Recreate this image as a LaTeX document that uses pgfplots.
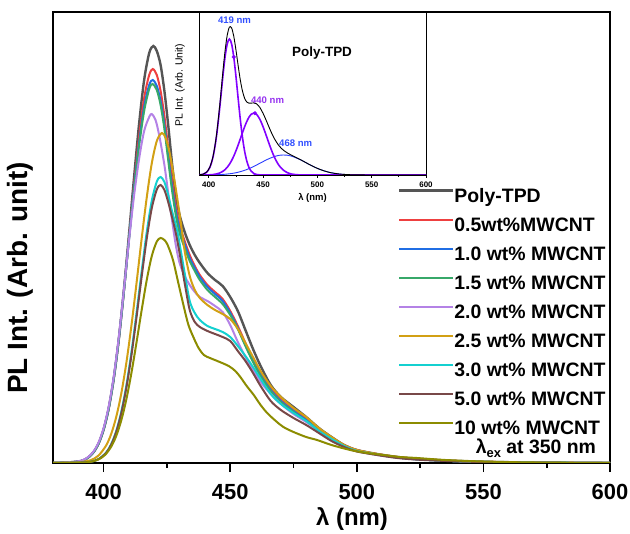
\documentclass[border=0pt]{standalone}
\usepackage{fontspec}
\setmainfont{Liberation Sans}
\usepackage{pgfplots}
\pgfplotsset{compat=1.18}
\definecolor{cTPD}{RGB}{85,85,85}
\definecolor{cRed}{RGB}{238,64,64}
\definecolor{cBlue}{RGB}{32,110,228}
\definecolor{cGreen}{RGB}{55,168,105}
\definecolor{cLav}{RGB}{180,130,230}
\definecolor{cGold}{RGB}{210,160,20}
\definecolor{cCyan}{RGB}{20,208,208}
\definecolor{cBrown}{RGB}{120,72,72}
\definecolor{cOlive}{RGB}{140,140,0}
\definecolor{iPurple}{RGB}{130,0,255}
\definecolor{iBlue}{RGB}{40,60,255}
\definecolor{tBlue}{RGB}{50,80,255}
\definecolor{tPurple}{RGB}{150,50,240}
\begin{document}
\begin{tikzpicture}
\path[use as bounding box] (0,0) rectangle (630bp,534bp);
\begin{axis}[
  at={(53bp,71bp)}, anchor=south west, scale only axis,
  width=557bp, height=451bp,
  xmin=380, xmax=600, ymin=0, ymax=451,
  axis line style={line width=1.6bp},
  xtick={400,450,500,550,600}, minor x tick num=1, xtick pos=left,
  tick align=outside, major tick length=9bp, minor tick length=5bp,
  every tick/.style={black, line width=1.6bp},
  ytick=\empty,
  /pgf/number format/assume math mode=true,
  xticklabel style={font=\bfseries\fontsize{22}{24}\selectfont, yshift=-9bp},
  xlabel={λ (nm)},
  xlabel style={font=\bfseries\fontsize{24}{26}\selectfont, at={(rel axis cs:0.537,0)}, anchor=center, yshift=-56bp},
  ylabel={PL Int. (Arb. unit)},
  ylabel style={font=\bfseries\fontsize{28}{30}\selectfont, at={(rel axis cs:0,0.41)}, anchor=center, yshift=33bp},
  legend style={draw=none, fill=none, at={(rel axis cs:0.619,0.61)}, anchor=north west,
    font=\bfseries\fontsize{19.5}{21}\selectfont, row sep=11bp, inner sep=0pt,
    nodes={inner sep=0pt, text height=14bp, text depth=4bp},
    /tikz/every even column/.append style={column sep=5bp}},
  legend cell align=left,
  legend image code/.code={\draw[#1] (0bp,6.5bp) -- (54bp,6.5bp);},
  every axis plot/.append style={line width=2bp, smooth, tension=0.5},
]
\addplot[cTPD, line width=2.4bp] coordinates {(380,0)(386,0.6)(390,1.5)(392,2.8)(394,5.7)(396,10.8)(398,19.5)(400,33.6)(402,54.7)(404,84.6)(406,124)(408,173)(410,228)(412,285)(414,339)(416,383)(418,410)(419.6,417)(421,412)(422.5,398)(424,372)(425.5,338)(427,300)(428.5,268)(430,248)(432,231)(434,218)(436,208)(438,200)(441,190)(444,183)(447,177)(450,166)(453,152)(456,133)(459,114)(462,97)(466,78)(470,66)(475,56)(480,46)(485,35)(490,26)(495,18)(500,13)(508,9)(516,6)(525,4)(540,2)(560,0.8)(600,0)};
\addlegendentry{Poly-TPD}
\addplot[cRed] coordinates {(380,0)(386,0.6)(390,1.5)(392,2.8)(394,5.7)(396,10.8)(398,19.5)(400,33.6)(402,54.7)(404,84.6)(406,124)(408,172)(410,225)(412,278)(414,326)(416,365)(418,388)(419.4,394)(421,388)(422.5,372)(424,347)(425.5,315)(427,283)(428.5,257)(430,238)(432,222)(434,208)(436,197)(438,188)(441,178)(444,171)(447,164)(450,152)(453,137)(456,120)(459,104)(462,90)(466,75)(470,63)(475,53)(480,44)(485,34)(490,25)(495,18)(500,13)(508,9)(516,6)(525,4)(540,2)(560,0.8)(600,0)};
\addlegendentry{0.5wt\%MWCNT}
\addplot[cBlue] coordinates {(380,0)(386,0.6)(390,1.5)(392,2.8)(394,5.7)(396,10.8)(398,19.5)(400,33.6)(402,54.7)(404,84.6)(406,124)(408,172)(410,224)(412,275)(414,320)(416,356)(418,378)(419.4,383)(421,377)(422.5,362)(424,338)(425.5,307)(427,277)(428.5,252)(430,234)(432,219)(434,205)(436,195)(438,186)(441,176)(444,169)(447,162)(450,150)(453,135)(456,118)(459,102)(462,88)(466,73)(470,62)(475,52)(480,43)(485,33)(490,24)(495,17)(500,12.5)(508,8.5)(516,5.5)(525,3.5)(540,1.8)(560,0.7)(600,0)};
\addlegendentry{1.0 wt\% MWCNT}
\addplot[cGreen] coordinates {(380,0)(386,0.6)(390,1.5)(392,2.8)(394,5.7)(396,10.8)(398,19.5)(400,33.6)(402,54.7)(404,84.6)(406,124)(408,171)(410,223)(412,273)(414,317)(416,352)(418,374)(419.3,379)(421,373)(422.5,358)(424,334)(425.5,303)(427,273)(428.5,248)(430,230)(432,215)(434,202)(436,192)(438,183)(441,173)(444,166)(447,159)(450,148)(453,134)(456,117)(459,101)(462,87)(466,72)(470,61)(475,51)(480,42)(485,33)(490,24)(495,17)(500,12.5)(508,8.5)(516,5.5)(525,3.5)(540,1.8)(560,0.7)(600,0)};
\addlegendentry{1.5 wt\% MWCNT}
\addplot[cLav] coordinates {(380,0)(386,0.7)(390,1.7)(392,3.1)(394,6.2)(396,11.5)(398,20.5)(400,35)(402,56.5)(404,86.5)(406,126)(408,173)(410,222)(412,267)(414,304)(416,332)(418,346)(419,349)(420.5,343)(422,327)(424,298)(425.5,270)(427,243)(428.5,218)(430,200)(432,187)(434,178)(436,171)(438,166)(441,162)(444,157)(447,151)(450,138)(453,121)(456,106)(459,93)(462,81)(466,69)(470,59)(475,49)(480,41)(485,32)(490,23)(495,16)(500,12)(508,8)(516,5.5)(525,3.5)(540,1.8)(560,0.7)(600,0)};
\addlegendentry{2.0 wt\% MWCNT}
\addplot[cGold] coordinates {(380,0)(388,0.6)(392,1.3)(395,2.9)(398,7.5)(401,17.6)(403,29.2)(405,46.3)(407,69.9)(409,100.6)(411,137.9)(413,180)(415,224)(417,265)(419,299.5)(421,322)(423,330)(424.5,325)(426,311)(427.5,290)(429,266)(430.5,240)(432,212)(434,187)(436,173)(438,165)(441,158)(444,153)(447,149)(450,144)(453,134)(456,120)(459,106)(462,92)(466,77)(470,66)(475,55)(480,46)(485,35)(490,26)(495,18)(500,13)(508,9)(516,6)(525,4)(540,2)(560,0.8)(600,0)};
\addlegendentry{2.5 wt\% MWCNT}
\addplot[cCyan] coordinates {(380,0)(388,0.3)(392,0.6)(395,1.3)(398,3.9)(401,10.5)(403,18.9)(405,32.1)(407,51.5)(409,77.8)(411,111.2)(413,150.2)(415,191.3)(417,230.4)(419,262)(421,281.4)(422.5,286)(424,281)(425.5,268)(427,252)(429,233)(430.5,212)(432,190)(434,162)(436,150)(438,143)(441,137)(444,134)(447,131)(450,126)(453,117)(456,107)(459,96)(462,84)(466,69)(470,59)(475,50)(480,42)(485,32)(490,24)(495,17)(500,12)(508,8.5)(516,5.5)(525,3.5)(540,1.8)(560,0.7)(600,0)};
\addlegendentry{3.0 wt\% MWCNT}
\addplot[cBrown] coordinates {(380,0)(388,0.3)(392,0.6)(395,1.3)(398,3.8)(401,10.2)(403,18.4)(405,31.2)(407,50)(409,75.6)(411,108)(413,146)(415,186)(417,224)(419,254.7)(421,273.5)(422.5,278)(424,273)(425.5,261)(427,246)(428.5,230)(430,210)(432,180)(434,153)(436,141)(438,136)(441,132)(444,129)(447,126)(450,122)(453,112)(456,102)(459,90)(462,77)(466,62)(470,53)(475,45)(480,38)(485,30)(490,22)(495,16)(500,11.5)(508,8)(516,5)(525,3.2)(540,1.6)(560,0.6)(600,0)};
\addlegendentry{5.0 wt\% MWCNT}
\addplot[cOlive] coordinates {(380,0)(388,0.2)(392,0.4)(396,1.8)(399,5)(401,9.3)(403,16.4)(405,27.2)(407,43)(409,64)(411,90.4)(413,120.8)(415,152.6)(417,182.6)(419,206.8)(421,221.5)(422.5,225)(424,223)(425.1,219)(426.5,210)(427.7,200)(429.5,180)(431.7,156)(433.5,138)(435.6,125)(437.5,115)(439.6,108)(442,105)(444.9,102)(449.4,97)(452,92)(454,86)(456.5,77)(459.3,68)(462,58)(464.6,50)(468,42)(471,36)(475,31)(480,26)(484.3,23)(490,18)(497.4,13)(504,10)(510.5,8)(517,6)(523.7,5)(535,3)(550,1.5)(570,0.5)(600,0)};
\addlegendentry{10 wt\% MWCNT}
\node[anchor=base, font=\bfseries\fontsize{19.5}{21}\selectfont] at (rel axis cs:0.867,0.022) {λ\raisebox{-0.4ex}{\fontsize{13}{14}\selectfont ex} at 350 nm};
\end{axis}
\begin{axis}[
  at={(199bp,359bp)}, anchor=south west, scale only axis,
  width=227bp, height=163bp,
  xmin=391, xmax=600, ymin=0, ymax=163,
  axis background/.style={fill=white},
  axis line style={line width=0.9bp},
  xtick={400,450,500,550,600}, minor x tick num=1, xtick pos=left,
  tick align=outside, major tick length=3bp, minor tick length=2bp,
  every tick/.style={black, line width=0.8bp},
  ytick=\empty,
  /pgf/number format/assume math mode=true,
  xticklabel style={font=\bfseries\fontsize{8}{9}\selectfont},
  xlabel={λ (nm)},
  xlabel style={font=\bfseries\fontsize{9.5}{11}\selectfont, at={(rel axis cs:0.5,0)}, anchor=center, yshift=-23bp},
  ylabel={PL Int. (Arb. Unit)},
  ylabel style={font=\fontsize{10.5}{12}\selectfont, at={(rel axis cs:0,0.552)}, anchor=center, yshift=19bp},
  every axis plot/.append style={smooth, tension=0.5},
]
\addplot[iBlue, line width=0.9bp] coordinates {(391,0.02)(395,0.04)(398,0.07)(401,0.11)(404,0.17)(407,0.26)(410,0.4)(413,0.59)(415,0.75)(417,0.96)(419,1.2)(421,1.5)(423,1.85)(425,2.27)(427,2.76)(429,3.32)(431,3.96)(433,4.68)(435,5.48)(437,6.36)(439,7.3)(441.5,8.6)(444,10)(447,11.7)(450,13.4)(453,15.1)(456,16.6)(459,17.9)(462,19)(465,19.7)(468.8,20)(472,19.8)(476,18.9)(480,17.3)(485,14.9)(490,12)(495,9.2)(500,6.6)(506,4.2)(512,2.4)(520,1)(530,0.29)(545,0.03)(560,0)(600,0)};
\addplot[iPurple, line width=1.6bp] coordinates {(391,0.13)(395,0.81)(398,2.7)(401,7.6)(404,18.4)(407,37.8)(410,66.2)(413,98.8)(415,118)(417,131.2)(419,136)(421,131.2)(423,118)(425,98.8)(427,77)(429,55.9)(431,37.8)(433,23.8)(435,14)(437,7.6)(439,3.9)(441.5,1.5)(444,0.5)(447,0.13)(452,0)(600,0)};
\addplot[iPurple, line width=1.6bp] coordinates {(391,0.01)(395,0.03)(398,0.09)(401,0.21)(404,0.47)(407,1)(410,2)(413,3.7)(415,5.4)(417,7.7)(419,10.7)(421,14.4)(423,18.9)(425,24.1)(427,29.9)(429,36)(431,42.3)(433,48.2)(435,53.5)(437,57.8)(439,60.7)(441.5,62)(444,60.7)(447,55.8)(450,48.2)(453,39.2)(456,29.9)(459,21.4)(462,14.4)(465,9.1)(468.8,4.7)(472,2.5)(476,1)(480,0.36)(485,0.09)(490,0)(600,0)};
\addplot[black, line width=0.9bp] coordinates {(391,0.16)(395,0.88)(398,2.86)(401,7.92)(404,19)(407,39.1)(410,68.6)(413,103.1)(415,124.2)(417,139.9)(419,147.9)(421,147.1)(423,138.8)(425,125.2)(427,109.7)(429,95.2)(431,84.1)(433,76.7)(435,73)(437,71.8)(439,71.9)(441.5,72.1)(444,71.2)(447,67.6)(450,61.6)(453,54.3)(456,46.5)(459,39.3)(462,33.4)(465,28.8)(468.8,24.7)(472,22.3)(476,19.9)(480,17.7)(485,15)(490,12)(495,9.2)(500,6.6)(506,4.2)(512,2.4)(520,1)(530,0.29)(545,0.03)(560,0)(600,0)};
\addplot[iPurple, only marks, mark=*, mark size=1.8bp] coordinates {(423,118)(442.5,61.8)};
\node[font=\bfseries\fontsize{9.6}{11}\selectfont, text=tBlue] at (axis cs:423.7,155) {419 nm};
\node[font=\bfseries\fontsize{9.6}{11}\selectfont, text=tPurple] at (axis cs:454.1,75) {440 nm};
\node[font=\bfseries\fontsize{9.6}{11}\selectfont, text=tBlue] at (axis cs:480,32) {468 nm};
\node[font=\bfseries\fontsize{13.5}{15}\selectfont] at (axis cs:504.3,122) {Poly-TPD};
\end{axis}
\end{tikzpicture}
\end{document}
